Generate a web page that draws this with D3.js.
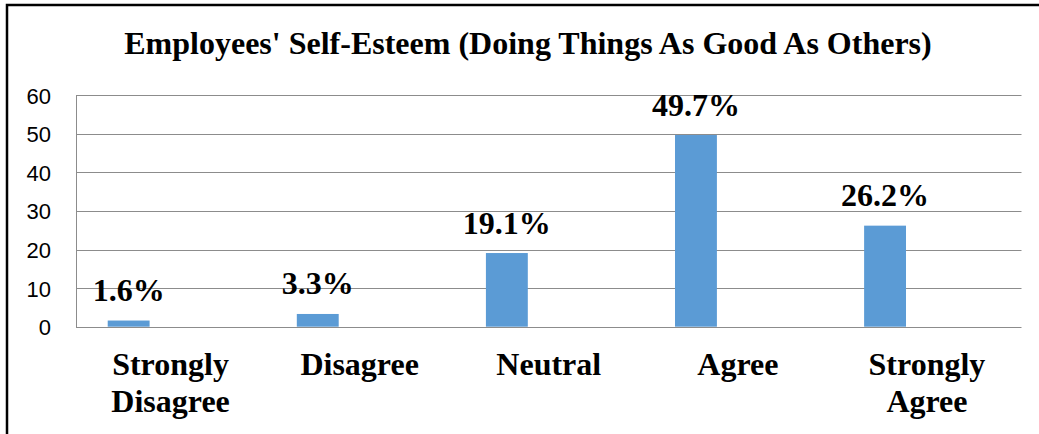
<!DOCTYPE html>
<html>
<head>
<meta charset="utf-8">
<script src="https://cdn.jsdelivr.net/npm/d3@7"></script>
<style>
  html, body { margin: 0; padding: 0; background: #fff; }
  svg { display: block; }
</style>
</head>
<body>
<svg id="chart" width="1039" height="434"></svg>
<script>
// Survey responses: "I am able to do things as well as most other people"
const categories = ["Strongly Disagree", "Disagree", "Neutral", "Agree", "Strongly Agree"];
const categoryLines = [["Strongly", "Disagree"], ["Disagree"], ["Neutral"], ["Agree"], ["Strongly", "Agree"]];
const percentages = [1.6, 3.3, 19.1, 49.7, 26.2];
const yTicks = [0, 10, 20, 30, 40, 50, 60];
const titleText = "Employees' Self-Esteem (Doing Things As Good As Others)";

const svg = d3.select("#chart");
const W = 1039, H = 434;
const plot = { left: 76, right: 1021.5, top: 95.3, bottom: 326.7 };
const serif = "'Liberation Serif', 'Times New Roman', serif";

// Frame around the chart (left and top edges)
svg.append("path")
  .attr("d", `M7,${H} L7,5 L${W},5`)
  .attr("fill", "none")
  .attr("stroke", "#000")
  .attr("stroke-width", 2.5);

// Title
svg.append("text")
  .attr("x", 528)
  .attr("y", 54)
  .attr("text-anchor", "middle")
  .attr("font-family", serif)
  .attr("font-weight", "bold")
  .attr("font-size", 32)
  .attr("fill", "#000")
  .text(titleText);

const x = d3.scaleBand()
  .domain(categories)
  .range([plot.left, plot.right])
  .paddingInner(0)
  .paddingOuter(0);

const y = d3.scaleLinear()
  .domain([0, 60])
  .range([plot.bottom, plot.top]);

// Clustered layout: three slots per category, only the first one is filled
const slot = d3.scaleBand()
  .domain([0, 1, 2])
  .range([0, x.bandwidth()])
  .paddingInner(0)
  .paddingOuter(0.757);

// Gridlines
svg.append("g")
  .selectAll("line")
  .data(yTicks)
  .join("line")
  .attr("x1", plot.left)
  .attr("x2", plot.right)
  .attr("y1", d => Math.round(y(d)) + 0.5)
  .attr("y2", d => Math.round(y(d)) + 0.5)
  .attr("stroke", "#8c8c8c")
  .attr("stroke-width", 1);

// Left axis line of the plot area
svg.append("line")
  .attr("x1", plot.left + 0.5)
  .attr("x2", plot.left + 0.5)
  .attr("y1", Math.round(y(60)) + 0.5)
  .attr("y2", Math.round(y(0)) + 0.5)
  .attr("stroke", "#8c8c8c")
  .attr("stroke-width", 1);

// Y axis tick labels
const yAxis = d3.axisLeft(y)
  .tickValues(yTicks)
  .tickSize(0)
  .tickPadding(0)
  .tickFormat(d3.format("d"));

const yg = svg.append("g")
  .attr("transform", "translate(51,0)")
  .call(yAxis);
yg.select(".domain").remove();
yg.selectAll("text")
  .attr("font-family", "'Liberation Sans', Arial, sans-serif")
  .attr("font-size", 22)
  .attr("fill", "#000")
  .attr("dy", "0.36em");

// Bars
const bars = svg.append("g");
bars.selectAll("rect")
  .data(percentages)
  .join("rect")
  .attr("x", (d, i) => x(categories[i]) + slot(0))
  .attr("width", slot.bandwidth())
  .attr("y", d => y(d))
  .attr("height", d => y(0) - y(d))
  .attr("fill", "#5b9bd5");

// Value labels above bars
svg.append("g")
  .selectAll("text")
  .data(percentages)
  .join("text")
  .attr("x", (d, i) => x(categories[i]) + slot(0) + slot.bandwidth() / 2)
  .attr("y", d => y(d) - 19.5)
  .attr("text-anchor", "middle")
  .attr("font-family", serif)
  .attr("font-weight", "bold")
  .attr("font-size", 32)
  .attr("fill", "#000")
  .text(d => d.toFixed(1) + "%");

// Category labels
const xl = svg.append("g")
  .selectAll("text")
  .data(categories)
  .join("text")
  .attr("text-anchor", "middle")
  .attr("font-family", serif)
  .attr("font-weight", "bold")
  .attr("font-size", 32)
  .attr("fill", "#000");

xl.each(function(d, i) {
  const cx = x(d) + x.bandwidth() / 2;
  d3.select(this).selectAll("tspan")
    .data(categoryLines[i])
    .join("tspan")
    .attr("x", cx)
    .attr("y", (t, j) => 375 + j * 36.5)
    .text(t => t);
});
</script>
</body>
</html>
